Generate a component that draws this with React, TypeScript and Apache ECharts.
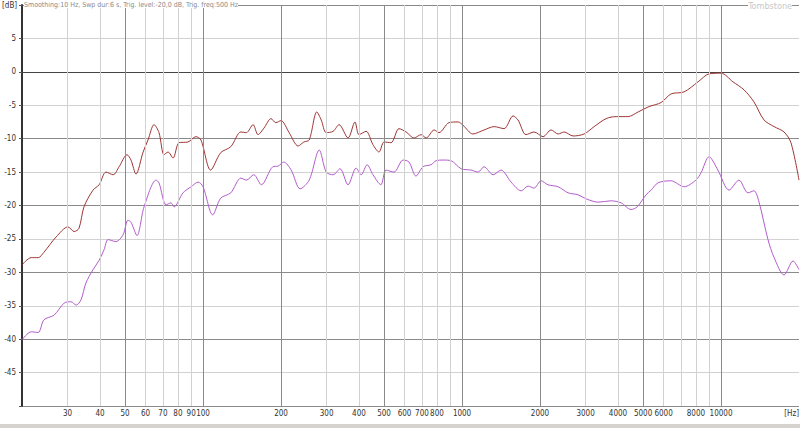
import React, { useEffect, useRef } from "react";
import * as echarts from "echarts";

const redFreq = [20, 21.7, 23.1, 24.3, 27.1, 30.1, 31.8, 33.2, 34.7, 37.6, 39.7, 42.2, 45.0, 47.4, 50.9, 52.7, 55.1, 58.7, 61.3, 64.7, 67.6, 70.7, 73.3, 76.6, 80.8, 87.5, 93.9, 98.2, 107, 117, 128, 140, 147, 156, 163, 172, 183, 191, 200, 215, 233, 245, 257, 275, 286, 299, 318, 335, 363, 386, 400, 426, 453, 478, 500, 532, 571, 608, 653, 695, 727, 780, 815, 891, 966, 1009, 1102, 1216, 1330, 1453, 1574, 1645, 1766, 1897, 2055, 2207, 2350, 2478, 2685, 2960, 3236, 3600, 3936, 4378, 4786, 5275, 5866, 6415, 7200, 8150, 8990, 10000, 11120, 12270, 13400, 14650, 16030, 17510, 18620, 20000];
const redDb = [-28.9, -27.8, -27.8, -27.0, -24.7, -23.2, -23.9, -23.4, -20.2, -17.7, -16.9, -15.0, -15.4, -14.2, -12.4, -13.2, -15.3, -12.0, -10.2, -7.9, -9.1, -12.4, -12.0, -12.9, -10.6, -10.5, -9.7, -10.2, -14.7, -12.1, -11.2, -9.0, -9.1, -7.9, -9.4, -8.4, -7.0, -7.6, -7.3, -9.1, -11.1, -10.5, -10.2, -6.0, -7.2, -9.1, -8.9, -7.9, -9.9, -7.5, -9.4, -8.9, -10.9, -12.0, -10.5, -10.6, -8.5, -9.0, -9.9, -9.4, -9.9, -8.7, -9.1, -7.6, -7.5, -8.0, -9.3, -8.7, -8.2, -8.5, -6.6, -7.2, -9.4, -9.0, -9.7, -8.7, -9.3, -9.0, -9.6, -9.3, -8.2, -7.0, -6.7, -6.7, -6.0, -5.2, -4.6, -3.3, -3.0, -1.5, -0.3, -0.2, -1.5, -2.7, -4.5, -7.2, -8.2, -9.0, -10.6, -16.2];

const purpleFreq = [20, 21.7, 23.1, 24.3, 26.6, 29.1, 30.9, 32.4, 33.8, 35.3, 37.6, 39.7, 41.5, 43.0, 46.1, 49.1, 51.3, 52.7, 55.6, 59.2, 65.9, 67.6, 72.0, 75.2, 77.3, 83.7, 89.9, 95.7, 100, 109, 117, 128, 140, 147, 157, 168, 186, 195, 205, 219, 237, 257, 281, 299, 318, 338, 363, 390, 408, 430, 453, 486, 509, 546, 592, 624, 664, 707, 759, 794, 845, 907, 992, 1084, 1153, 1216, 1318, 1415, 1547, 1691, 1799, 1897, 2018, 2148, 2350, 2567, 2806, 3013, 3351, 3758, 4111, 4495, 4745, 5134, 5370, 5715, 6415, 7200, 8000, 8370, 8990, 9725, 10740, 11730, 12700, 13400, 14020, 15180, 16030, 17510, 18970, 20000];
const purpleDb = [-40.1, -38.9, -39.0, -37.1, -36.4, -34.6, -34.4, -34.9, -34.1, -31.6, -29.6, -28.2, -26.6, -25.1, -25.4, -24.4, -22.2, -22.5, -24.5, -20.2, -16.2, -16.6, -19.9, -19.6, -20.2, -18.1, -17.2, -16.5, -17.2, -21.4, -18.9, -18.1, -15.9, -16.2, -15.4, -16.9, -14.2, -14.1, -13.5, -14.7, -17.5, -16.2, -11.7, -15.0, -15.4, -14.5, -16.9, -14.4, -15.4, -13.9, -15.4, -16.9, -14.7, -15.0, -13.2, -13.5, -15.6, -14.2, -13.9, -13.3, -13.2, -13.3, -14.5, -14.7, -15.0, -14.2, -15.4, -14.7, -16.5, -17.8, -17.1, -17.4, -16.3, -16.9, -17.2, -18.1, -18.4, -19.0, -19.5, -19.3, -19.6, -20.6, -20.2, -18.4, -17.7, -16.6, -16.3, -17.2, -16.2, -15.1, -12.7, -14.7, -17.7, -16.2, -18.1, -17.8, -19.5, -25.1, -27.8, -30.4, -28.3, -29.6];

const gridFreqs = [30, 40, 50, 60, 70, 80, 90, 100, 200, 300, 400, 500, 600, 700, 800, 900, 1000, 2000, 3000, 4000, 5000, 6000, 7000, 8000, 9000, 10000];
const majorFreqs = [50, 100, 200, 500, 1000, 2000, 5000, 10000];
const unlabeledFreqs = [900, 7000, 9000];

const headerText = "Smoothing:10 Hz, Swp dur:6 s, Trig. level:-20,0 dB, Trig. freq:500 Hz";
const FONT = "'Liberation Sans Narrow', 'DejaVu Sans Condensed', 'Liberation Sans', sans-serif";

export default function App() {
  const ref = useRef<HTMLDivElement>(null);
  useEffect(() => {
    if (!ref.current) return;
    const chart = echarts.init(ref.current, null, { renderer: "svg" });
    const pairs = (f: number[], d: number[]) => f.map((v, i) => [v, d[i]]);
    const markData = gridFreqs.map((f) => ({
      xAxis: f,
      lineStyle: {
        color: majorFreqs.includes(f) ? "#8a8a8a" : "#d2d2d2",
        width: 1,
        type: "solid" as const,
      },
      label: {
        show: !unlabeledFreqs.includes(f),
        position: "start" as const,
        formatter: String(f),
        color: "#333",
        fontSize: 8,
        fontFamily: FONT,
        distance: 3,
      },
    }));
    chart.setOption({
      animation: false,
      backgroundColor: "#ffffff",
      grid: { left: 22, right: 1, top: 5, bottom: 22, containLabel: false },
      xAxis: {
        type: "log",
        logBase: 10,
        min: 20,
        max: 20000,
        axisLine: { show: true, lineStyle: { color: "#444", width: 1 } },
        axisTick: { show: false },
        axisLabel: { show: false },
        splitLine: { show: false },
      },
      yAxis: {
        type: "value",
        min: -50,
        max: 10,
        interval: 5,
        axisLine: { show: true, onZero: false, lineStyle: { color: "#333", width: 2 } },
        axisTick: { show: true, length: 3, lineStyle: { color: "#555" } },
        axisLabel: {
          color: "#333",
          fontSize: 8,
          fontFamily: FONT,
          margin: 6,
          formatter: (v: number) => (v === 10 || v === -50 ? "" : String(v)),
        },
        splitLine: {
          show: true,
          lineStyle: { color: ["#8a8a8a", "#d2d2d2"], width: 1 },
        },
      },
      series: [
        {
          type: "line",
          data: [],
          z: 1,
          silent: true,
          markLine: {
            silent: true,
            symbol: ["none", "none"],
            animation: false,
            data: markData,
          },
        },
        {
          type: "line",
          data: pairs(redFreq, redDb),
          showSymbol: false,
          smooth: 0.3,
          z: 3,
          lineStyle: { color: "#9e3535", width: 1 },
          itemStyle: { color: "#9e3535" },
        },
        {
          type: "line",
          data: pairs(purpleFreq, purpleDb),
          showSymbol: false,
          smooth: 0.3,
          z: 3,
          lineStyle: { color: "#b35bcc", width: 1 },
          itemStyle: { color: "#b35bcc" },
        },
      ],
      graphic: [
        {
          type: "text",
          left: 2,
          top: 1,
          style: { text: "[dB]", fill: "#333", fontSize: 8, fontFamily: FONT },
        },
        {
          type: "text",
          left: 24,
          top: 1,
          z: 10,
          style: {
            text: headerText,
            fill: "#8a8a8a",
            fontSize: 7,
            fontFamily: FONT,
            backgroundColor: "#ffffff",
          },
        },
        {
          type: "text",
          right: 8,
          top: 1,
          z: 10,
          style: { text: "Tombstone", fill: "#c8c8c8", fontSize: 9, fontFamily: FONT, backgroundColor: "#ffffff" },
        },
        {
          type: "text",
          right: 1,
          top: 409,
          style: { text: "[Hz]", fill: "#333", fontSize: 8, fontFamily: FONT },
        },
        {
          type: "rect",
          left: 0,
          top: 424,
          shape: { width: 800, height: 4 },
          style: { fill: "#d6d3ce" },
        },
      ],
    });
    return () => chart.dispose();
  }, []);
  return (
    <div
      ref={ref}
      style={{ position: "fixed", left: 0, top: 0, width: 800, height: 428, background: "#fff" }}
    />
  );
}
